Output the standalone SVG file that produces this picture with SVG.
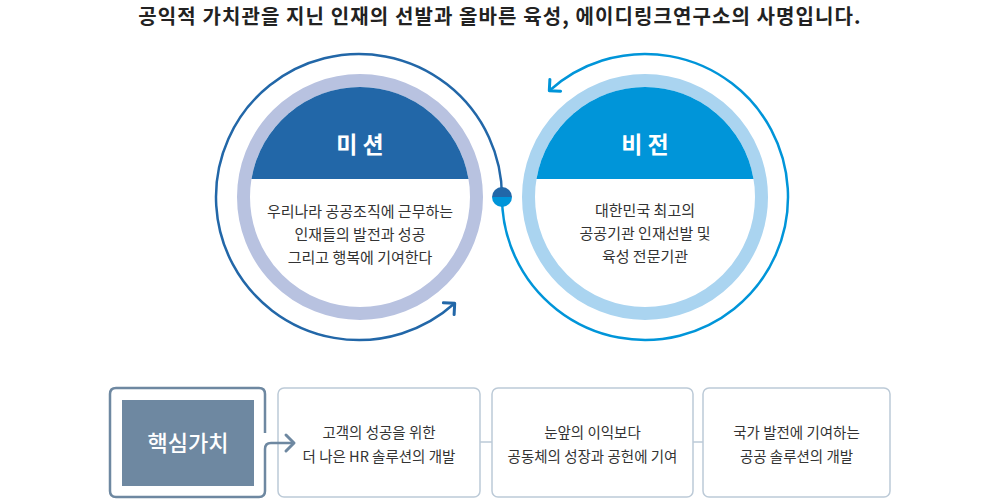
<svg xmlns="http://www.w3.org/2000/svg" width="1000" height="500" viewBox="0 0 1000 500">
<style>
.title{font-family:"Noto Sans CJK KR","Noto Sans",sans-serif;font-size:20px;font-weight:700;fill:#222;text-anchor:middle;letter-spacing:1.1px}
.cap{font-family:"Noto Sans CJK KR","Noto Sans",sans-serif;font-size:23px;font-weight:700;fill:#fff;text-anchor:middle}
.body{font-family:"Noto Sans CJK KR","Noto Sans",sans-serif;font-size:15px;fill:#333;text-anchor:middle}
.val{font-family:"Noto Sans CJK KR","Noto Sans",sans-serif;font-size:14.5px;fill:#333;text-anchor:middle}
.core{font-family:"Noto Sans CJK KR","Noto Sans",sans-serif;font-size:22px;font-weight:500;fill:#fff;text-anchor:middle}
.box{fill:#fff;stroke:#bccad7;stroke-width:1.5}
.link{fill:none;stroke:#bccad7;stroke-width:1.5}
</style>
<defs>
<marker id="arrDark" markerUnits="userSpaceOnUse" viewBox="-12 -12 14 24" refX="0" refY="0" markerWidth="14" markerHeight="24" orient="auto">
<path d="M-8,-8 L0,0 L-8,8" fill="none" stroke="#2267a8" stroke-width="3" stroke-linecap="round" stroke-linejoin="round"/>
</marker>
<marker id="arrLight" markerUnits="userSpaceOnUse" viewBox="-12 -12 14 24" refX="0" refY="0" markerWidth="14" markerHeight="24" orient="auto">
<path d="M-8,-8 L0,0 L-8,8" fill="none" stroke="#0095d9" stroke-width="3" stroke-linecap="round" stroke-linejoin="round"/>
</marker>
</defs>
<rect width="1000" height="500" fill="#fff"/>
<text class="title" x="500" y="24">공익적 가치관을 지닌 인재의 선발과 올바른 육성, 에이디링크연구소의 사명입니다.</text>

<g id="mission">
<circle cx="360" cy="197" r="116.5" fill="#fff" stroke="#b8c2e0" stroke-width="13"/>
<path d="M251.5,179 A110,110 0 0 1 468.5,179 Z" fill="#2267a8"/>
<text class="cap" x="360" y="153">미 션</text>
<text class="body" x="360" y="217">우리나라 공공조직에 근무하는</text>
<text class="body" x="360" y="240">인재들의 발전과 성공</text>
<text class="body" x="360" y="263">그리고 행복에 기여한다</text>
</g>

<g id="vision">
<circle cx="645" cy="197" r="116.5" fill="#fff" stroke="#aad4f0" stroke-width="13"/>
<path d="M536.5,179 A110,110 0 0 1 753.5,179 Z" fill="#0095d9"/>
<text class="cap" x="645" y="153">비 전</text>
<text class="body" x="645" y="216">대한민국 최고의</text>
<text class="body" x="645" y="239">공공기관 인재선발 및</text>
<text class="body" x="645" y="262">육성 전문기관</text>
</g>

<g id="core">
<path d="M265,433 V394 Q265,388 259,388 H116 Q110,388 110,394 V491 Q110,497 116,497 H259 Q265,497 265,491 V449" fill="none" stroke="#6e88a1" stroke-width="2.5"/>
<rect x="122" y="400" width="132" height="86" fill="#6e88a1"/>
<text class="core" x="188" y="451">핵심가치</text>
</g>

<g id="value1">
<rect class="box" x="278" y="388" width="202" height="109" rx="6"/>
<text class="val" x="379" y="438">고객의 성공을 위한</text>
<text class="val" x="379" y="462">더 나은 HR 솔루션의 개발</text>
</g>
<g id="value2">
<rect class="box" x="492" y="388" width="201" height="109" rx="6"/>
<text class="val" x="592.5" y="438">눈앞의 이익보다</text>
<text class="val" x="592.5" y="462">공동체의 성장과 공헌에 기여</text>
</g>
<g id="value3">
<rect class="box" x="703" y="388" width="187" height="109" rx="6"/>
<text class="val" x="796.5" y="438">국가 발전에 기여하는</text>
<text class="val" x="796.5" y="462">공공 솔루션의 개발</text>
</g>

<g id="connectors">
<path d="M502,197 A143,143 0 1 0 454.7,303.3" fill="none" stroke="#2267a8" stroke-width="2.5" marker-end="url(#arrDark)"/>
<path d="M502,197 A143,143 0 1 0 549.3,90.7" fill="none" stroke="#0095d9" stroke-width="2.5" marker-end="url(#arrLight)"/>
<path class="link" d="M480,442 H492 M693,442 H703"/>
<path d="M265,449 Q265,443 271,443 H294" fill="none" stroke="#6e88a1" stroke-width="2.5"/>
<path d="M286,435 L294,443 L286,451" fill="none" stroke="#6e88a1" stroke-width="3" stroke-linecap="round" stroke-linejoin="round"/>
</g>

<g id="dot">
<path d="M492,197 A10,10 0 0 1 512,197 Z" fill="#2267a8"/>
<path d="M492,197 A10,10 0 0 0 512,197 Z" fill="#0095d9"/>
</g>
</svg>
